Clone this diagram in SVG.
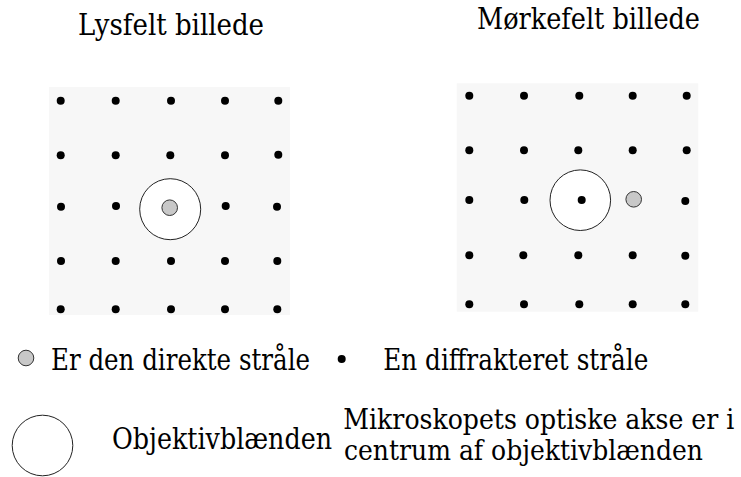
<svg xmlns="http://www.w3.org/2000/svg" width="741" height="477" viewBox="0 0 741 477">
<style>
  .t { font-family: 'DejaVu Serif', 'Liberation Serif', serif; font-size: 29px; fill: #000; }
  .t2 { font-size: 28px; }
  .bg { fill: #f7f7f7; stroke: none; }
  .dot { fill: #000; }
  .direct { fill: #c8c8c8; stroke: #333; stroke-width: 1; }
  .aperture { fill: #fff; stroke: #222; stroke-width: 1; }
</style>
<rect width="741" height="477" fill="#fff"/>
<g id="lysfelt">
  <text class="t" x="78" y="35" textLength="186" lengthAdjust="spacingAndGlyphs">Lysfelt billede</text>
  <rect class="bg" x="49" y="87" width="241" height="228"/>
  <g class="dots">
    <circle class="dot" cx="60.7" cy="100.7" r="4"/><circle class="dot" cx="115.7" cy="100.7" r="4"/><circle class="dot" cx="171" cy="100.7" r="4"/><circle class="dot" cx="225" cy="100.7" r="4"/><circle class="dot" cx="278.3" cy="100.7" r="4"/>
    <circle class="dot" cx="60.7" cy="155.3" r="4"/><circle class="dot" cx="115.7" cy="155.3" r="4"/><circle class="dot" cx="170.3" cy="155.3" r="4"/><circle class="dot" cx="225" cy="155.3" r="4"/><circle class="dot" cx="278.3" cy="154.7" r="4"/>
    <circle class="dot" cx="61" cy="206.7" r="4"/><circle class="dot" cx="116" cy="206" r="4"/><circle class="dot" cx="225.7" cy="206" r="4"/><circle class="dot" cx="277" cy="206.7" r="4"/>
    <circle class="dot" cx="61" cy="261" r="4"/><circle class="dot" cx="115.7" cy="261" r="4"/><circle class="dot" cx="171" cy="261" r="4"/><circle class="dot" cx="225" cy="261" r="4"/><circle class="dot" cx="277.3" cy="261" r="4"/>
    <circle class="dot" cx="60.7" cy="309.3" r="4"/><circle class="dot" cx="115.7" cy="309.3" r="4"/><circle class="dot" cx="171" cy="309.3" r="4"/><circle class="dot" cx="225" cy="309.3" r="4"/><circle class="dot" cx="277.3" cy="309.3" r="4"/>
  </g>
  <circle class="aperture" cx="170.2" cy="209.2" r="30.5"/>
  <circle class="direct" cx="169.7" cy="207.7" r="7.8"/>
</g>
<g id="moerkefelt">
  <text class="t" x="477" y="29" textLength="223" lengthAdjust="spacingAndGlyphs">Mørkefelt billede</text>
  <rect class="bg" x="456.7" y="83.3" width="241.6" height="228.4"/>
  <g class="dots">
    <circle class="dot" cx="469.3" cy="95.7" r="4"/><circle class="dot" cx="524" cy="95.7" r="4"/><circle class="dot" cx="579.3" cy="95.7" r="4"/><circle class="dot" cx="632.7" cy="95.7" r="4"/><circle class="dot" cx="686.7" cy="95.7" r="4"/>
    <circle class="dot" cx="469.3" cy="150.3" r="4"/><circle class="dot" cx="524" cy="150.3" r="4"/><circle class="dot" cx="578.3" cy="150.3" r="4"/><circle class="dot" cx="632.7" cy="150.3" r="4"/><circle class="dot" cx="686.7" cy="150.3" r="4"/>
    <circle class="dot" cx="469.3" cy="200" r="4"/><circle class="dot" cx="524.3" cy="200" r="4"/><circle class="dot" cx="685.3" cy="201" r="4"/>
    <circle class="dot" cx="469.3" cy="255.3" r="4"/><circle class="dot" cx="523.3" cy="255.3" r="4"/><circle class="dot" cx="578.3" cy="255.3" r="4"/><circle class="dot" cx="632.7" cy="255.3" r="4"/><circle class="dot" cx="685.3" cy="255.7" r="4"/>
    <circle class="dot" cx="469.3" cy="304.3" r="4"/><circle class="dot" cx="524" cy="304.3" r="4"/><circle class="dot" cx="579.3" cy="304.3" r="4"/><circle class="dot" cx="632.7" cy="304.3" r="4"/><circle class="dot" cx="685.3" cy="304.3" r="4"/>
  </g>
  <circle class="aperture" cx="580.3" cy="200.2" r="30.3"/>
  <circle class="dot" cx="581.7" cy="200" r="4"/>
  <circle class="direct" cx="633.7" cy="199.3" r="7.8"/>
</g>
<g id="legend">
  <g id="legend-direct">
    <circle class="direct" cx="26" cy="358" r="7.8"/>
    <text class="t" x="51" y="370" textLength="259" lengthAdjust="spacingAndGlyphs">Er den direkte stråle</text>
  </g>
  <g id="legend-diffracted">
    <circle class="dot" cx="341.7" cy="359" r="4"/>
    <text class="t" x="383.3" y="370" textLength="265" lengthAdjust="spacingAndGlyphs">En diffrakteret stråle</text>
  </g>
  <g id="legend-aperture">
    <circle class="aperture" cx="42.5" cy="445.5" r="30.3"/>
    <text class="t" x="112" y="449" textLength="220" lengthAdjust="spacingAndGlyphs">Objektivblænden</text>
  </g>
  <g id="legend-axis">
    <text class="t t2" x="343.3" y="429" textLength="391" lengthAdjust="spacingAndGlyphs">Mikroskopets optiske akse er i</text>
    <text class="t t2" x="344" y="460" textLength="359" lengthAdjust="spacingAndGlyphs">centrum af objektivblænden</text>
  </g>
</g>
<g id="connectors"/>
</svg>
